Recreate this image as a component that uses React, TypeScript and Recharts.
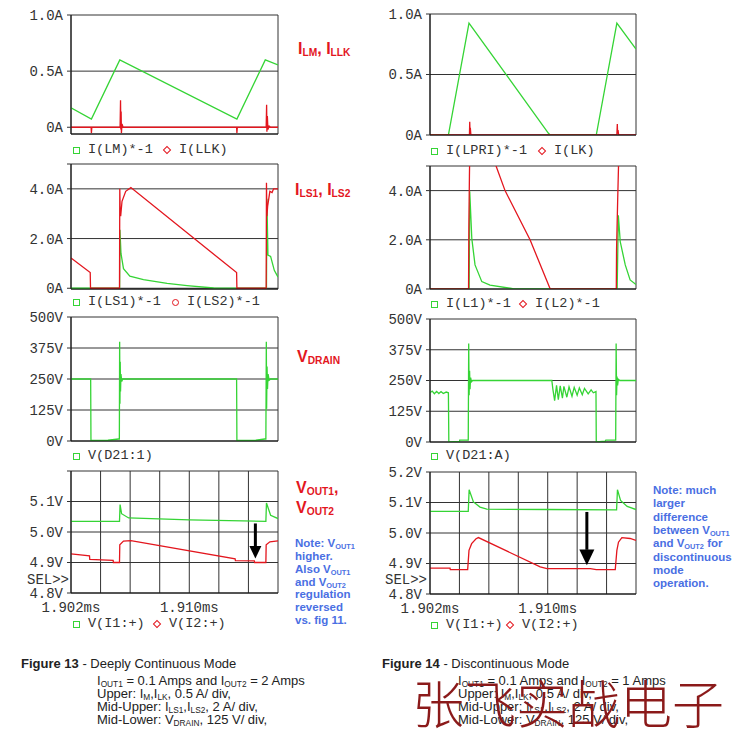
import React from 'react';
import {
  LineChart,
  Line,
  XAxis,
  YAxis,
  CartesianGrid,
  ReferenceLine,
  ReferenceDot
} from 'recharts';

type Pt = [number, number];

const GREEN = '#35d435';
const RED = '#e3161e';
const BLUE = '#4a6fe3';
const GRID = '#333333';
const MONO = '"Liberation Mono", "DejaVu Sans Mono", monospace';
const SANS = '"Liberation Sans", Arial, sans-serif';

// time axis: microseconds after 1.902ms, 2us per division
const timeTicks = [0, 2, 4, 6, 8, 10, 12, 14];
const timeLabels: Record<number, string> = { 0: '1.902ms', 8: '1.910ms' };

// ---- Figure 13 (deeply continuous) ----
const lmCurrent: Pt[] = [[0, 0.174], [1.38, 0.073], [3.3, 0.6], [11.22, 0.073], [13.14, 0.6], [14, 0.555]];
const llkCurrent: Pt[] = [
  [0, 0], [1.36, 0], [1.38, -0.05], [1.41, 0], [3.32, 0], [3.35, 0.24], [3.37, -0.02], [3.39, 0.14],
  [3.41, -0.05], [3.45, 0.03], [3.52, 0], [11.2, 0], [11.22, -0.05], [11.25, 0], [13.2, 0], [13.23, 0.2],
  [13.25, -0.04], [13.28, 0.1], [13.32, -0.02], [13.4, 0.01], [13.5, 0], [14, 0]
];
const ls1Current: Pt[] = [
  [0, 0], [3.29, 0], [3.31, 2.35], [3.38, 1.4], [3.55, 0.79], [3.98, 0.49], [4.9, 0.35], [6.5, 0.2],
  [7.85, 0.11], [9.65, 0.01], [13.22, 0], [13.25, 3.6], [13.32, 1.33], [13.5, 1.28], [13.75, 0.72], [14, 0.45]
];
const ls2Current: Pt[] = [
  [0, 1.22], [1.3, 0.63], [1.32, 0], [3.28, 0], [3.3, 4.0], [3.33, 3.0], [3.36, 2.9], [3.45, 3.5],
  [3.7, 3.9], [4.05, 4.05], [11.2, 0.63], [11.22, 0], [13.2, 0], [13.22, 4.25], [13.25, 2.9], [13.3, 3.3],
  [13.45, 3.9], [13.6, 3.85], [13.7, 4.0], [14, 4.0]
];
const drain1: Pt[] = [
  [0, 250], [1.33, 250], [1.35, 2], [2.5, 3], [3.22, 8], [3.27, 8], [3.29, 400], [3.31, 150], [3.33, 320],
  [3.35, 200], [3.38, 270], [3.43, 240], [3.5, 250], [11.2, 250], [11.22, 2], [12.5, 3], [13.1, 8],
  [13.18, 8], [13.21, 400], [13.23, 130], [13.26, 300], [13.29, 210], [13.33, 270], [13.4, 245], [13.5, 250], [14, 250]
];
const vout1Cont: Pt[] = [
  [0, 5.035], [3.28, 5.035], [3.32, 5.09], [3.42, 5.06], [3.9, 5.046], [8, 5.04], [13.18, 5.035],
  [13.22, 5.095], [13.5, 5.055], [14, 5.044]
];
const vout2Cont: Pt[] = [
  [0, 4.928], [1.25, 4.922], [1.27, 4.91], [2.85, 4.907], [2.87, 4.9], [3.28, 4.9], [3.3, 4.958],
  [3.55, 4.97], [4.05, 4.972], [11.1, 4.912], [11.12, 4.906], [12.4, 4.905], [12.42, 4.9], [13.18, 4.9],
  [13.2, 4.958], [13.45, 4.968], [14, 4.971]
];

// ---- Figure 14 (discontinuous) ----
const lpriCurrent: Pt[] = [[0, 0], [1.25, 0], [2.65, 0.925], [8.05, 0.014], [8.17, 0], [11.3, 0], [12.7, 0.925], [14, 0.71]];
const lkCurrent: Pt[] = [
  [0, 0], [2.68, 0], [2.7, 0.11], [2.72, 0.02], [2.74, 0.06], [2.78, 0], [12.7, 0], [12.73, 0.09],
  [12.75, 0.01], [12.78, 0.04], [12.82, 0], [14, 0]
];
const l1Current: Pt[] = [
  [0, 0], [2.66, 0], [2.7, 3.97], [2.84, 2.06], [3.06, 0.98], [3.52, 0.3], [4.08, 0.16], [5.45, 0.03],
  [5.7, 0], [12.72, 0], [12.8, 3.0], [12.93, 1.92], [13.27, 0.98], [13.6, 0.37], [14, 0.18]
];
const l2Current: Pt[] = [
  [0, 0], [2.62, 0], [2.64, 2.5], [2.68, 4.6], [2.75, 7.5], [3.3, 8], [4.49, 5.0], [5.1, 4.0], [6.8, 2.0],
  [8.17, 0], [12.66, 0], [12.68, 1.65], [12.75, 3.5], [12.82, 5.2], [12.89, 7], [14, 8]
];
const drain2: Pt[] = [
  [0, 200], [0.15, 207], [0.3, 196], [0.45, 206], [0.6, 197], [0.75, 205], [0.9, 197], [1.1, 203],
  [1.25, 200], [1.28, 0], [2.0, 2], [2.02, 8], [2.6, 8], [2.63, 400], [2.66, 190], [2.69, 290], [2.72, 215],
  [2.76, 262], [2.82, 245], [2.9, 250], [8.28, 250], [8.35, 215], [8.47, 168], [8.6, 230], [8.72, 172],
  [8.85, 228], [9.0, 178], [9.1, 226], [9.3, 182], [9.45, 224], [9.65, 186], [9.8, 222], [10.0, 190],
  [10.15, 220], [10.35, 192], [10.5, 218], [10.75, 196], [10.95, 212], [11.1, 200], [11.28, 205],
  [11.3, 0], [11.9, 3], [11.95, 8], [12.62, 8], [12.65, 400], [12.68, 190], [12.71, 266], [12.75, 230],
  [12.8, 255], [12.9, 250], [14, 250]
];
const vout1Disc: Pt[] = [
  [0, 5.071], [2.6, 5.071], [2.66, 5.142], [2.95, 5.102], [3.4, 5.085], [3.86, 5.078], [8, 5.077],
  [12.68, 5.076], [12.74, 5.142], [12.95, 5.107], [13.4, 5.087], [14, 5.077]
];
const vout2Disc: Pt[] = [
  [0, 4.885], [1.36, 4.885], [1.38, 4.88], [2.56, 4.88], [2.65, 4.943], [2.83, 4.965], [3.13, 4.981],
  [3.29, 4.985], [7.49, 4.889], [7.95, 4.883], [10.9, 4.883], [11.3, 4.88], [12.59, 4.88], [12.7, 4.943],
  [12.81, 4.97], [13.04, 4.985], [13.6, 4.982], [14, 4.976]
];

// y axis ticks
const ampTicksUpper = [0, 0.5, 1.0];
const ampLabelsUpper: Record<number, string> = { 0: '0A', 0.5: '0.5A', 1: '1.0A' };
const ampTicksMid = [0, 2, 4, 5];
const ampLabelsMid: Record<number, string> = { 0: '0A', 2: '2.0A', 4: '4.0A' };
const voltTicksDrain = [0, 125, 250, 375, 500];
const voltLabelsDrain: Record<number, string> = { 0: '0V', 125: '125V', 250: '250V', 375: '375V', 500: '500V' };
const voltTicksOut = [4.8, 4.9, 5.0, 5.1, 5.2];
const voltLabelsOutL: Record<string, string> = { '4.8': '4.8V', '4.9': '4.9V', '5': '5.0V', '5.1': '5.1V' };
const voltLabelsOutR: Record<string, string> = { ...voltLabelsOutL, '5.2': '5.2V' };

type Series = { color: string; points: Pt[] };
type Arrow = { t: number; from: number; base: number; tip: number; half: number };

interface PanelProps {
  x: number;
  y: number;
  w: number;
  h: number;
  domain: [number, number];
  ticks: number[];
  labels: Record<string, string>;
  series: Series[];
  xLabels?: boolean;
  arrow?: Arrow;
}

const Panel: React.FC<PanelProps> = ({ x, y, w, h, domain, ticks, labels, series, xLabels, arrow }) => {
  const yw = 70;
  const mt = 8;
  const mr = 6;
  const xh = xLabels ? 26 : 10;
  return (
    <div style={{ position: 'absolute', left: x - yw, top: y - mt }}>
      <LineChart width={yw + w + mr} height={mt + h + xh} margin={{ top: mt, right: mr, left: 0, bottom: 0 }}>
        <CartesianGrid stroke={GRID} strokeWidth={1} />
        <XAxis
          type="number"
          dataKey="t"
          domain={[0, 14]}
          ticks={timeTicks}
          interval={0}
          allowDataOverflow
          height={xh}
          axisLine={{ stroke: '#111' }}
          tickLine={false}
          tickSize={6}
          tickMargin={3}
          tick={xLabels ? { fontSize: 14, fill: '#333', fontFamily: MONO } : false}
          tickFormatter={(v: number) => timeLabels[v] ?? ''}
        />
        <YAxis
          type="number"
          domain={domain}
          ticks={ticks}
          interval={0}
          allowDataOverflow
          width={yw}
          axisLine={{ stroke: '#111' }}
          tickLine={{ stroke: '#333' }}
          tickSize={4}
          tickMargin={4}
          tick={{ fontSize: 14, fill: '#333', fontFamily: MONO }}
          tickFormatter={(v: number) => labels[String(Math.round(v * 1000) / 1000)] ?? ''}
        />
        {series.map((s, i) => (
          <Line
            key={i}
            data={s.points.map(([t, v]) => ({ t, v }))}
            dataKey="v"
            type="linear"
            stroke={s.color}
            strokeWidth={1.3}
            dot={false}
            activeDot={false}
            isAnimationActive={false}
          />
        ))}
        {arrow && (
          <ReferenceLine
            segment={[{ x: arrow.t, y: arrow.from }, { x: arrow.t, y: arrow.base }]}
            stroke="#000"
            strokeWidth={3}
          />
        )}
        {arrow && (
          <ReferenceDot
            x={arrow.t}
            y={arrow.tip}
            r={1}
            shape={(p: any) => {
              const tipY = p.cy;
              return (
                <path
                  d={`M${p.cx},${tipY} L${p.cx - arrow.half},${tipY - arrow.half * 2.1} L${p.cx + arrow.half},${tipY - arrow.half * 2.1} Z`}
                  fill="#000"
                />
              );
            }}
          />
        )}
      </LineChart>
    </div>
  );
};

type Marker = 'square' | 'diamond' | 'circle';
interface LegendItem { marker: Marker; color: string; label: string; at: number }

const MarkerIcon: React.FC<{ marker: Marker; color: string }> = ({ marker, color }) => {
  const base: React.CSSProperties = {
    position: 'absolute',
    left: -3.5,
    top: -3.5,
    width: 5,
    height: 5,
    border: `1.5px solid ${color}`
  };
  if (marker === 'diamond') return <div style={{ ...base, width: 4, height: 4, transform: 'rotate(45deg)' }} />;
  if (marker === 'circle') return <div style={{ ...base, borderRadius: '50%' }} />;
  return <div style={base} />;
};

const LegendRow: React.FC<{ y: number; items: LegendItem[] }> = ({ y, items }) => (
  <>
    {items.map((it, i) => (
      <React.Fragment key={i}>
        <div style={{ position: 'absolute', left: it.at, top: y }}>
          <MarkerIcon marker={it.marker} color={it.color} />
        </div>
        <div
          style={{
            position: 'absolute',
            left: it.at + 12,
            top: y - 9,
            lineHeight: '18px',
            fontFamily: MONO,
            fontSize: 13.5,
            color: '#333',
            whiteSpace: 'nowrap'
          }}
        >
          {it.label}
        </div>
      </React.Fragment>
    ))}
  </>
);

const Sub: React.FC<{ children: React.ReactNode }> = ({ children }) => (
  <span style={{ fontSize: '0.64em', verticalAlign: '-0.22em', lineHeight: 0 }}>{children}</span>
);

const Txt: React.FC<{
  x: number;
  y: number;
  size: number;
  color: string;
  bold?: boolean;
  family?: string;
  children: React.ReactNode;
}> = ({ x, y, size, color, bold, family, children }) => (
  <div
    style={{
      position: 'absolute',
      left: x,
      top: y - size * 0.6,
      lineHeight: `${size * 1.2}px`,
      fontSize: size,
      color,
      fontWeight: bold ? 700 : 400,
      fontFamily: family ?? SANS,
      whiteSpace: 'nowrap'
    }}
  >
    {children}
  </div>
);

const noteLeft: React.ReactNode[] = [
  <>Note: V<Sub>OUT1</Sub></>,
  'higher.',
  <>Also V<Sub>OUT1</Sub></>,
  <>and V<Sub>OUT2</Sub></>,
  'regulation',
  'reversed',
  'vs.  fig 11.'
];
const noteRight: React.ReactNode[] = [
  'Note: much',
  'larger',
  'difference',
  <>between V<Sub>OUT1</Sub></>,
  <>and V<Sub>OUT2</Sub> for</>,
  'discontinuous',
  'mode',
  'operation.'
];

const captionLines = (amps: string): React.ReactNode[] => [
  <>I<Sub>OUT1</Sub> = 0.1 Amps and I<Sub>OUT2</Sub> = {amps} Amps</>,
  <>Upper: I<Sub>M</Sub>,I<Sub>LK</Sub>, 0.5 A/ div,</>,
  <>Mid-Upper: I<Sub>LS1</Sub>,I<Sub>LS2</Sub>, 2 A/ div,</>,
  <>Mid-Lower: V<Sub>DRAIN</Sub>, 125 V/ div,</>
];

export default function App() {
  const LX = 71;
  const LW = 207;
  const RX = 430;
  const RW = 206;
  return (
    <div style={{ position: 'absolute', left: 0, top: 0, width: 737, height: 740, background: '#fff', overflow: 'hidden' }}>
      {/* Figure 13 column */}
      <Panel x={LX} y={15} w={LW} h={119} domain={[-0.06, 1.0]} ticks={ampTicksUpper} labels={ampLabelsUpper}
        series={[{ color: GREEN, points: lmCurrent }, { color: RED, points: llkCurrent }]} />
      <Panel x={LX} y={164} w={LW} h={125} domain={[-0.03, 5]} ticks={ampTicksMid} labels={ampLabelsMid}
        series={[{ color: GREEN, points: ls1Current }, { color: RED, points: ls2Current }]} />
      <Panel x={LX} y={317} w={LW} h={124} domain={[0, 500]} ticks={voltTicksDrain} labels={voltLabelsDrain}
        series={[{ color: GREEN, points: drain1 }]} />
      <Panel x={LX} y={471} w={LW} h={122} domain={[4.8, 5.2]} ticks={voltTicksOut} labels={voltLabelsOutL}
        series={[{ color: GREEN, points: vout1Cont }, { color: RED, points: vout2Cont }]} xLabels
        arrow={{ t: 12.47, from: 5.028, base: 4.95, tip: 4.913, half: 6 }} />

      {/* Figure 14 column */}
      <Panel x={RX} y={14} w={RW} h={121} domain={[0, 1.0]} ticks={ampTicksUpper} labels={ampLabelsUpper}
        series={[{ color: GREEN, points: lpriCurrent }, { color: RED, points: lkCurrent }]} />
      <Panel x={RX} y={166} w={RW} h={123} domain={[0, 5]} ticks={ampTicksMid} labels={ampLabelsMid}
        series={[{ color: GREEN, points: l1Current }, { color: RED, points: l2Current }]} />
      <Panel x={RX} y={319} w={RW} h={123} domain={[0, 500]} ticks={voltTicksDrain} labels={voltLabelsDrain}
        series={[{ color: GREEN, points: drain2 }]} />
      <Panel x={RX} y={472} w={RW} h={122} domain={[4.8, 5.2]} ticks={voltTicksOut} labels={voltLabelsOutR}
        series={[{ color: GREEN, points: vout1Disc }, { color: RED, points: vout2Disc }]} xLabels
        arrow={{ t: 10.66, from: 5.069, base: 4.945, tip: 4.894, half: 7.5 }} />

      {/* legends */}
      <LegendRow y={150} items={[
        { marker: 'square', color: GREEN, label: 'I(LM)*-1', at: 76 },
        { marker: 'diamond', color: RED, label: 'I(LLK)', at: 167 }
      ]} />
      <LegendRow y={302} items={[
        { marker: 'square', color: GREEN, label: 'I(LS1)*-1', at: 76 },
        { marker: 'circle', color: RED, label: 'I(LS2)*-1', at: 175 }
      ]} />
      <LegendRow y={456} items={[{ marker: 'square', color: GREEN, label: 'V(D21:1)', at: 76 }]} />
      <LegendRow y={624} items={[
        { marker: 'square', color: GREEN, label: 'V(I1:+)', at: 76 },
        { marker: 'diamond', color: RED, label: 'V(I2:+)', at: 157 }
      ]} />
      <LegendRow y={151} items={[
        { marker: 'square', color: GREEN, label: 'I(LPRI)*-1', at: 434 },
        { marker: 'diamond', color: RED, label: 'I(LK)', at: 542 }
      ]} />
      <LegendRow y={304} items={[
        { marker: 'square', color: GREEN, label: 'I(L1)*-1', at: 434 },
        { marker: 'diamond', color: RED, label: 'I(L2)*-1', at: 523 }
      ]} />
      <LegendRow y={456} items={[{ marker: 'square', color: GREEN, label: 'V(D21:A)', at: 434 }]} />
      <LegendRow y={625} items={[
        { marker: 'square', color: GREEN, label: 'V(I1:+)', at: 434 },
        { marker: 'diamond', color: RED, label: 'V(I2:+)', at: 510 }
      ]} />

      <Txt x={27} y={580} size={14} color="#333" family={MONO}>SEL&gt;&gt;</Txt>
      <Txt x={385} y={580} size={14} color="#333" family={MONO}>SEL&gt;&gt;</Txt>

      {/* signal names */}
      <Txt x={298} y={49} size={16} color={RED} bold>I<Sub>LM</Sub>, I<Sub>LLK</Sub></Txt>
      <Txt x={295} y={190} size={16} color={RED} bold>I<Sub>LS1</Sub>, I<Sub>LS2</Sub></Txt>
      <Txt x={297} y={357} size={16} color={RED} bold>V<Sub>DRAIN</Sub></Txt>
      <Txt x={296} y={488} size={16} color={RED} bold>V<Sub>OUT1</Sub>,</Txt>
      <Txt x={296} y={508} size={16} color={RED} bold>V<Sub>OUT2</Sub></Txt>

      {noteLeft.map((n, i) => (
        <Txt key={`nl${i}`} x={295} y={544 + i * 12.8} size={11.5} color={BLUE} bold>{n}</Txt>
      ))}
      {noteRight.map((n, i) => (
        <Txt key={`nr${i}`} x={653} y={491 + i * 13.3} size={11.5} color={BLUE} bold>{n}</Txt>
      ))}

      {/* captions */}
      <Txt x={21} y={664} size={13} color="#222"><b>Figure 13</b> - Deeply Continuous Mode</Txt>
      {captionLines('2').map((c, i) => (
        <Txt key={`cl${i}`} x={97} y={681 + i * 13} size={13} color="#222">{c}</Txt>
      ))}
      <Txt x={382} y={664} size={13} color="#222"><b>Figure 14</b> - Discontinuous Mode</Txt>
      {captionLines('1').map((c, i) => (
        <Txt key={`cr${i}`} x={458} y={681 + i * 13} size={13} color="#222">{c}</Txt>
      ))}

      {/* watermark */}
      <div
        style={{
          position: 'absolute',
          left: 412,
          top: 674,
          fontSize: 52,
          lineHeight: '56px',
          color: '#8b1a1a',
          fontFamily: '"Noto Sans CJK SC", sans-serif',
          fontWeight: 300,
          whiteSpace: 'nowrap'
        }}
      >
        张飞实战电子
      </div>
    </div>
  );
}
